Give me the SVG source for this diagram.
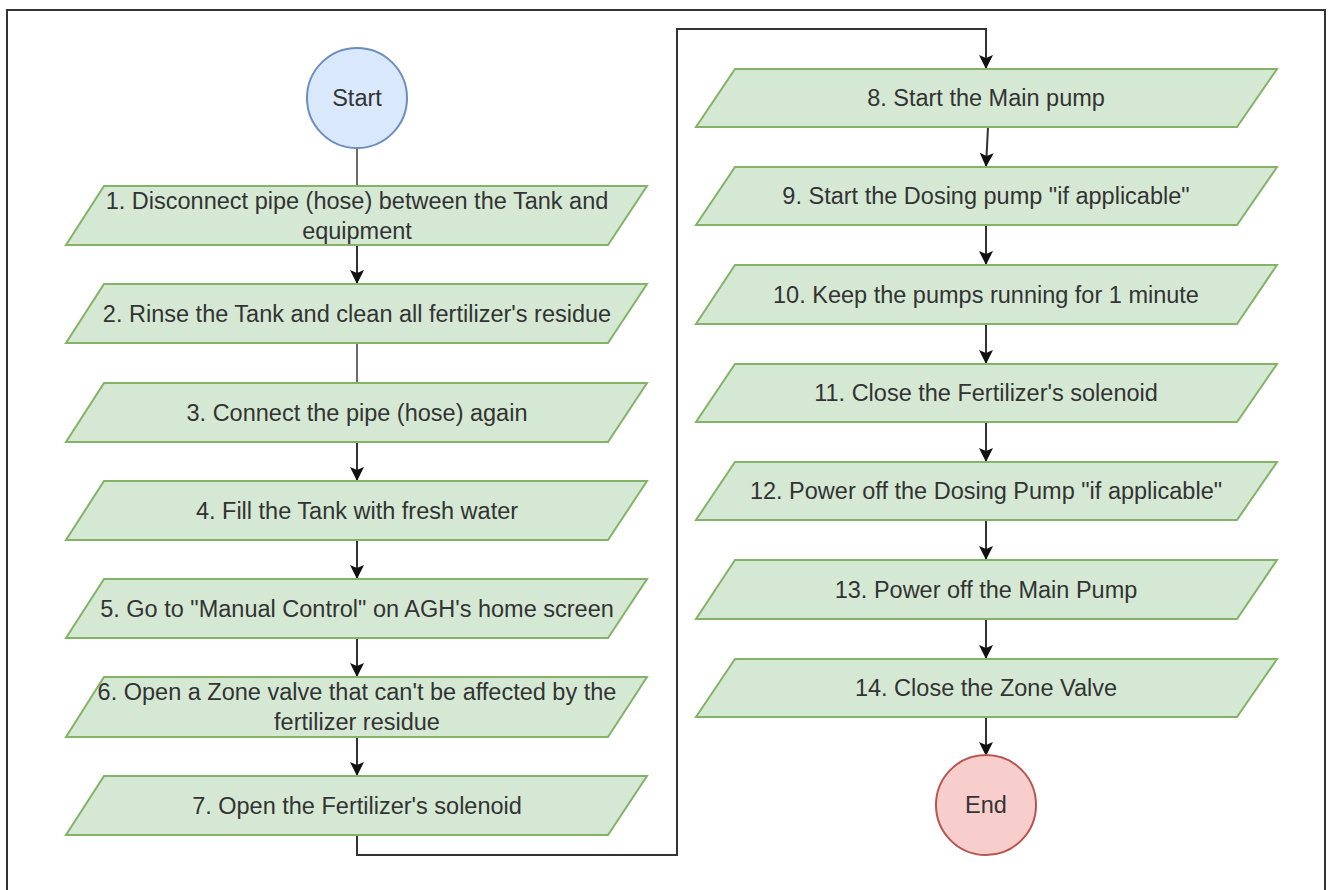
<svg xmlns="http://www.w3.org/2000/svg" width="1328" height="890" viewBox="0 0 1328 890">
<style>
  .frame{fill:#ffffff;stroke:#333333;stroke-width:2}
  .step{fill:#d5e8d4;stroke:#82b366;stroke-width:2}
  .start{fill:#dae8fc;stroke:#6c8ebf;stroke-width:2}
  .end{fill:#f8cecc;stroke:#b85450;stroke-width:2}
  .lbl{font-family:"Liberation Sans",Arial,sans-serif;font-size:23.5px;fill:#333333;text-anchor:middle}
  .conn{fill:none;stroke:#333333;stroke-width:2}
  .plain{fill:none;stroke:#6b6b6b;stroke-width:2}
</style>
<defs>
  <marker id="arr" markerWidth="14" markerHeight="14" refX="14" refY="7" orient="auto" markerUnits="userSpaceOnUse">
    <path d="M0,0 L14,7 L0,14 L3,7 Z" fill="#111111"/>
  </marker>
</defs>
<rect width="1328" height="890" fill="#ffffff"/>
<rect class="frame" x="7" y="10" width="1318" height="900"/>

<g id="connectors">
  <line class="plain" x1="357" y1="148" x2="357" y2="186"/>
  <line class="conn" x1="357" y1="245" x2="357" y2="284" marker-end="url(#arr)"/>
  <line class="plain" x1="357" y1="343" x2="357" y2="383"/>
  <line class="conn" x1="357" y1="442" x2="357" y2="481" marker-end="url(#arr)"/>
  <line class="conn" x1="357" y1="540" x2="357" y2="579" marker-end="url(#arr)"/>
  <line class="conn" x1="357" y1="638" x2="357" y2="677" marker-end="url(#arr)"/>
  <line class="conn" x1="357" y1="737" x2="357" y2="776" marker-end="url(#arr)"/>
  <path class="conn" d="M357,835 L357,855 L677,855 L677,29 L986,29 L986,69" marker-end="url(#arr)"/>
  <line class="conn" x1="988" y1="127" x2="986" y2="167" marker-end="url(#arr)"/>
  <line class="conn" x1="986" y1="225" x2="986" y2="265" marker-end="url(#arr)"/>
  <line class="conn" x1="986" y1="324" x2="986" y2="364" marker-end="url(#arr)"/>
  <line class="conn" x1="986" y1="422" x2="986" y2="462" marker-end="url(#arr)"/>
  <line class="conn" x1="986" y1="520" x2="986" y2="560" marker-end="url(#arr)"/>
  <line class="conn" x1="986" y1="619" x2="986" y2="659" marker-end="url(#arr)"/>
  <line class="conn" x1="986" y1="717" x2="986" y2="756" marker-end="url(#arr)"/>
</g>

<g id="start">
  <ellipse class="start" cx="357" cy="98" rx="50" ry="50"/>
  <text class="lbl" x="357" y="106">Start</text>
</g>

<g id="step1">
  <polygon class="step" points="104,186 647,186 608,245 66,245"/>
  <text class="lbl" x="357" y="209">1. Disconnect pipe (hose) between the Tank and</text>
  <text class="lbl" x="357" y="239">equipment</text>
</g>
<g id="step2">
  <polygon class="step" points="104,284 647,284 608,343 66,343"/>
  <text class="lbl" x="357" y="322">2. Rinse the Tank and clean all fertilizer's residue</text>
</g>
<g id="step3">
  <polygon class="step" points="104,383 647,383 608,442 66,442"/>
  <text class="lbl" x="357" y="421">3. Connect the pipe (hose) again</text>
</g>
<g id="step4">
  <polygon class="step" points="104,481 647,481 608,540 66,540"/>
  <text class="lbl" x="357" y="519">4. Fill the Tank with fresh water</text>
</g>
<g id="step5">
  <polygon class="step" points="104,579 647,579 608,638 66,638"/>
  <text class="lbl" x="357" y="617">5. Go to "Manual Control" on AGH's home screen</text>
</g>
<g id="step6">
  <polygon class="step" points="104,677 647,677 608,737 66,737"/>
  <text class="lbl" x="357" y="700">6. Open a Zone valve that can't be affected by the</text>
  <text class="lbl" x="357" y="730">fertilizer residue</text>
</g>
<g id="step7">
  <polygon class="step" points="104,776 647,776 608,835 66,835"/>
  <text class="lbl" x="357" y="814">7. Open the Fertilizer's solenoid</text>
</g>

<g id="step8">
  <polygon class="step" points="735,69 1277,69 1237,127 696,127"/>
  <text class="lbl" x="986" y="106">8. Start the Main pump</text>
</g>
<g id="step9">
  <polygon class="step" points="735,167 1277,167 1237,225 696,225"/>
  <text class="lbl" x="986" y="204">9. Start the Dosing pump "if applicable"</text>
</g>
<g id="step10">
  <polygon class="step" points="735,265 1277,265 1237,324 696,324"/>
  <text class="lbl" x="986" y="303">10. Keep the pumps running for 1 minute</text>
</g>
<g id="step11">
  <polygon class="step" points="735,364 1277,364 1237,422 696,422"/>
  <text class="lbl" x="986" y="401">11. Close the Fertilizer's solenoid</text>
</g>
<g id="step12">
  <polygon class="step" points="735,462 1277,462 1237,520 696,520"/>
  <text class="lbl" x="986" y="499">12. Power off the Dosing Pump "if applicable"</text>
</g>
<g id="step13">
  <polygon class="step" points="735,560 1277,560 1237,619 696,619"/>
  <text class="lbl" x="986" y="598">13. Power off the Main Pump</text>
</g>
<g id="step14">
  <polygon class="step" points="735,659 1277,659 1237,717 696,717"/>
  <text class="lbl" x="986" y="696">14. Close the Zone Valve</text>
</g>

<g id="end">
  <ellipse class="end" cx="986" cy="805" rx="50" ry="50"/>
  <text class="lbl" x="986" y="813">End</text>
</g>
</svg>
